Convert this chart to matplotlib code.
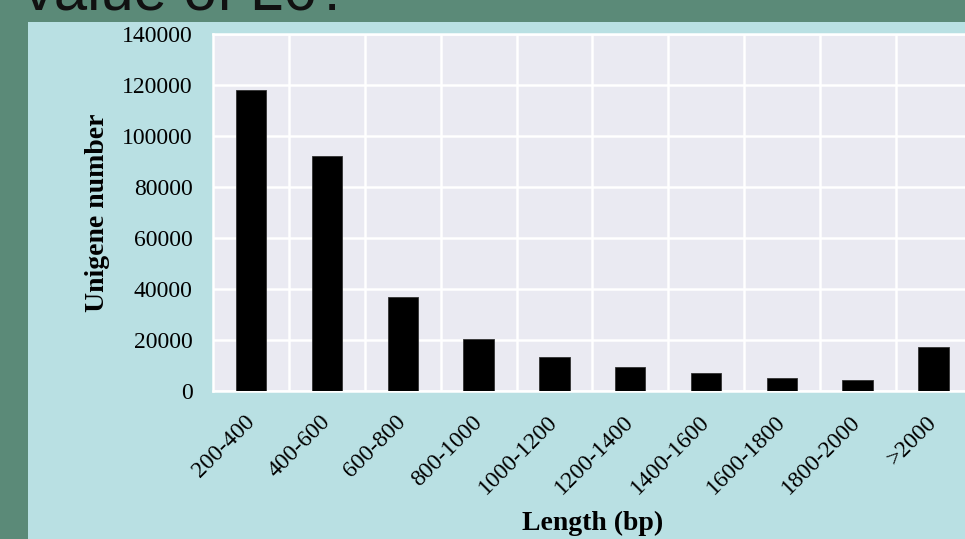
import numpy as np
import matplotlib
matplotlib.use('Agg')
import matplotlib.pyplot as plt
from matplotlib.patches import Rectangle

# Distribución de longitudes de los unigenes
categorias = ['200-400', '400-600', '600-800', '800-1000', '1000-1200',
              '1200-1400', '1400-1600', '1600-1800', '1800-2000', '>2000']
unigenes = [118300, 92400, 36900, 20600, 13600, 9400, 7200, 5300, 4400, 17500]
ticksY = [0, 20000, 40000, 60000, 80000, 100000, 120000, 140000]

fondo = '#5b8a78'
panel = '#b9e0e3'
area = '#eaeaf2'

fig = plt.figure(figsize=(9.65, 5.39), dpi=100, facecolor=fondo)

# capa de fondo: panel claro de la diapositiva y título cortado arriba
base = fig.add_axes([0, 0, 1, 1], zorder=-1)
base.set_xlim(0, 965)
base.set_ylim(539, 0)
base.axis('off')
base.add_patch(Rectangle((28, 22), 965, 539, facecolor=panel, edgecolor='none'))
base.text(24, 9, 'value of L6?', fontsize=43, family='Liberation Sans',
          color='#111111', va='baseline', ha='left', clip_on=False)

ax = fig.add_axes([213.3/965, 147.7/539, 758/965, 357/539])
ax.set_facecolor(area)

x = np.arange(len(categorias))
ax.bar(x, unigenes, width=0.4, color='black', edgecolor='#333333', linewidth=0.6, zorder=3)

ax.set_xlim(-0.5, len(categorias) - 0.5)
ax.set_ylim(0, 140000)
ax.set_yticks(ticksY)
ax.set_yticklabels([str(t) for t in ticksY], family='Liberation Serif', fontsize=17)
ax.set_xticks(x)
ax.set_xticklabels(categorias, family='Liberation Serif', fontsize=17,
                   rotation=45, ha='right', va='center', rotation_mode='anchor')
ax.set_xticks(x[:-1] + 0.5, minor=True)

ax.tick_params(axis='both', which='both', length=0)
ax.tick_params(axis='y', pad=15)
ax.tick_params(axis='x', pad=20)

ax.grid(axis='y', which='major', color='white', linewidth=1.8)
ax.grid(axis='x', which='minor', color='white', linewidth=1.8)
ax.grid(axis='x', which='major', visible=False)
ax.set_axisbelow(True)

for lado in ax.spines.values():
    lado.set_color('white')
    lado.set_linewidth(1.8)

ax.set_ylabel('Unigene number', family='Liberation Serif', fontweight='bold', fontsize=20)
ax.yaxis.set_label_coords((110 - 213.3) / 758, 0.5)
ax.set_xlabel('Length (bp)', family='Liberation Serif', fontweight='bold', fontsize=20)
ax.xaxis.set_label_coords((593 - 213.3) / 758, -(511 - 391.3) / 357)

fig.savefig('out.png', dpi=100, facecolor=fondo)
